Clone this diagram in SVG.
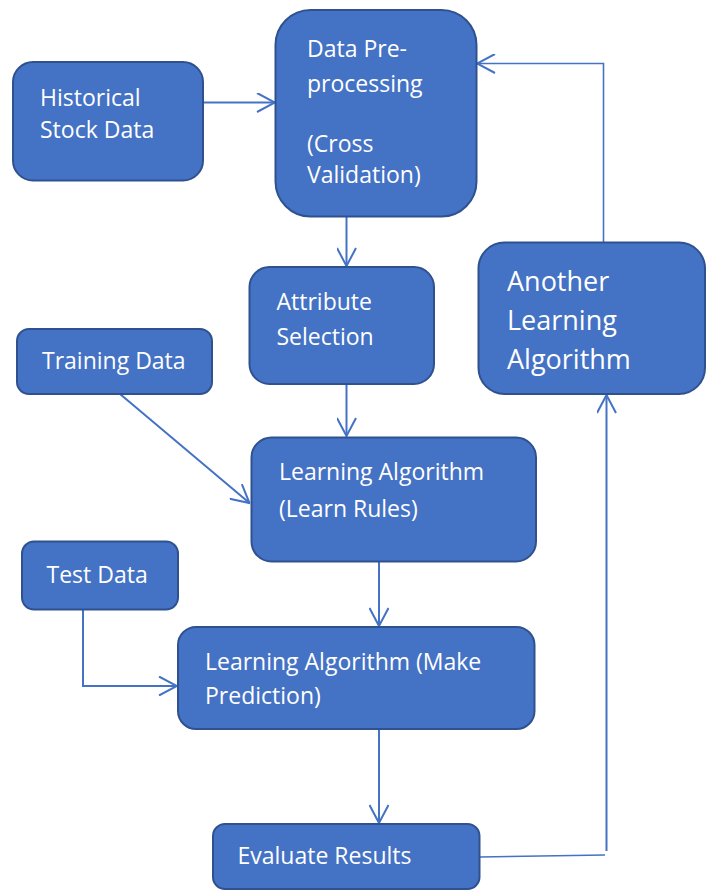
<svg xmlns="http://www.w3.org/2000/svg" width="710" height="891" viewBox="0 0 710 891">
<style>
.box{fill:#4472C4;stroke:#2F528F;stroke-width:2}
.t{font-family:"Open Sans","Noto Sans",sans-serif;font-size:23px;fill:#FFFFFF}
.tb{font-family:"Open Sans","Noto Sans",sans-serif;font-size:27px;fill:#FFFFFF}
.c{fill:none;stroke:#4472C4;stroke-width:2}
.cf{fill:none;stroke:#4472C4;stroke-width:1.6}
</style>
<defs>
<marker id="ah" viewBox="0 0 20 20" refX="19" refY="10" markerWidth="20" markerHeight="20" markerUnits="userSpaceOnUse" orient="auto">
<path d="M1,0.5 L19,10 L1,19.5" fill="none" stroke="#4472C4" stroke-width="2"/>
</marker>
</defs>
<rect width="710" height="891" fill="#FFFFFF"/>
<g id="connectors">
<line class="c" x1="203" y1="102.5" x2="275" y2="102.5" marker-end="url(#ah)"/>
<line class="c" x1="346.5" y1="217" x2="346.5" y2="266" marker-end="url(#ah)"/>
<line class="c" x1="346.5" y1="384" x2="346.5" y2="436" marker-end="url(#ah)"/>
<line class="c" x1="120" y1="394" x2="249.5" y2="503" marker-end="url(#ah)"/>
<line class="c" x1="379" y1="562" x2="379" y2="626" marker-end="url(#ah)"/>
<polyline class="c" points="83,609 83,686 177,686" marker-end="url(#ah)"/>
<line class="c" x1="379" y1="730" x2="379" y2="823" marker-end="url(#ah)"/>
<polyline class="cf" points="480,857 605,855"/>
<line class="c" x1="606.5" y1="851" x2="606.5" y2="395" marker-end="url(#ah)"/>
<polyline class="cf" points="603.5,242 603.5,63.5 477,63.5" marker-end="url(#ah)"/>
</g>
<g id="historical">
<rect class="box" x="13" y="62" width="190" height="118.5" rx="20"/>
<text class="t" x="40" y="106">Historical</text>
<text class="t" x="40" y="138">Stock Data</text>
</g>
<g id="preprocessing">
<rect class="box" x="275.5" y="10" width="201" height="206.5" rx="35"/>
<text class="t" x="307" y="57">Data Pre-</text>
<text class="t" x="307" y="91.5">processing</text>
<text class="t" x="307" y="151.5">(Cross</text>
<text class="t" x="307" y="183">Validation)</text>
</g>
<g id="attribute">
<rect class="box" x="249.5" y="267" width="184.5" height="117" rx="20"/>
<text class="t" x="276.5" y="309.5">Attribute</text>
<text class="t" x="276.5" y="344.5">Selection</text>
</g>
<g id="another">
<rect class="box" x="478.5" y="242.5" width="226.5" height="151.5" rx="26"/>
<text class="tb" x="507" y="290.5">Another</text>
<text class="tb" x="507" y="330">Learning</text>
<text class="tb" x="507" y="368.5">Algorithm</text>
</g>
<g id="training">
<rect class="box" x="17" y="329" width="195" height="65" rx="12"/>
<text class="t" x="42" y="368.5">Training Data</text>
</g>
<g id="learnrules">
<rect class="box" x="251.5" y="437.5" width="284.5" height="124" rx="20"/>
<text class="t" x="279" y="480">Learning Algorithm</text>
<text class="t" x="279" y="516.5">(Learn Rules)</text>
</g>
<g id="testdata">
<rect class="box" x="22" y="541.5" width="156" height="68" rx="12"/>
<text class="t" x="46.5" y="582.5">Test Data</text>
</g>
<g id="makeprediction">
<rect class="box" x="178" y="627" width="356.5" height="102" rx="18"/>
<text class="t" x="205" y="669.5">Learning Algorithm (Make</text>
<text class="t" x="205" y="704">Prediction)</text>
</g>
<g id="evaluate">
<rect class="box" x="213" y="824" width="266.5" height="65" rx="12"/>
<text class="t" x="237.5" y="863.5">Evaluate Results</text>
</g>
</svg>
